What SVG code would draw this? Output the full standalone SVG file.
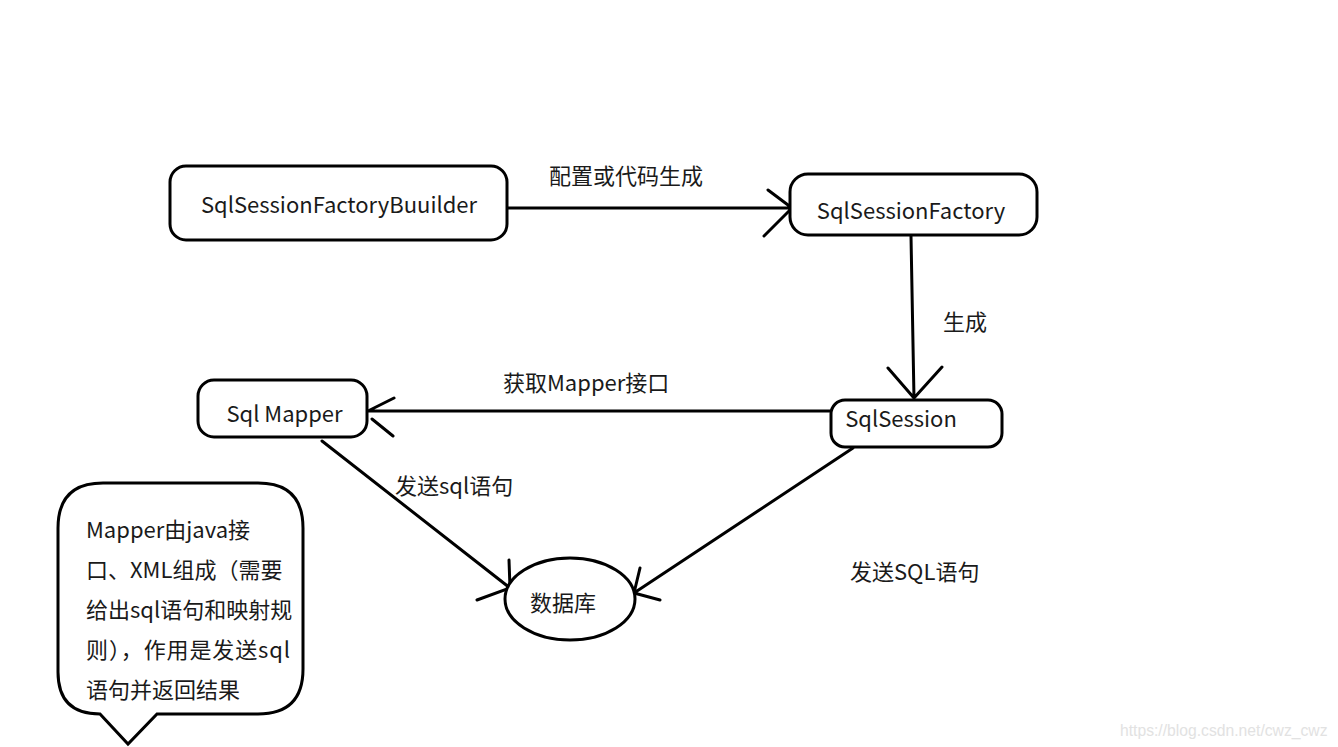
<svg xmlns="http://www.w3.org/2000/svg" width="1338" height="747" viewBox="0 0 1338 747">
<style>
.s{fill:none;stroke:#000;stroke-width:3;stroke-linecap:round;stroke-linejoin:round}
.box{fill:#fff;stroke:#000;stroke-width:3}
.t{font-family:"Microsoft YaHei","Noto Sans CJK SC","Noto Sans",sans-serif;font-size:22px;fill:#1a1a1a}
.c{font-family:"Microsoft YaHei","Noto Sans CJK SC","Noto Sans",sans-serif;font-size:22px;fill:#1a1a1a}
.w{font-family:"Liberation Sans",Arial,sans-serif;font-size:15.7px;fill:#e2e2e2}
</style>
<rect width="1338" height="747" fill="#fff"/>
<g id="connectors">
  <path class="s" d="M507 208 L792 208 M768 190 L792 208 L764 236"/>
  <path class="s" d="M911 236 L914 398 M888 368 L914 398 L942 367"/>
  <path class="s" d="M831 411 L368 411 M394 398 L368 411 M372 419 L393 436"/>
  <path class="s" d="M322 441 L510 588 M509 560 L510 588 L477 600"/>
  <path class="s" d="M853 448 L634 593 M640 568 L634 593 L660 600"/>
</g>
<g id="labels">
  <text class="t" x="549" y="184">配置或代码生成</text>
  <text class="t" x="943" y="330">生成</text>
  <text class="t" x="503" y="391">获取Mapper接口</text>
  <text class="t" x="395" y="494">发送sql语句</text>
  <text class="t" x="850" y="580">发送SQL语句</text>
</g>
<g id="builder">
  <rect class="box" x="170" y="166" width="337" height="74" rx="16"/>
  <text class="t" x="339" y="213" text-anchor="middle">SqlSessionFactoryBuuilder</text>
</g>
<g id="factory">
  <rect class="box" x="790" y="174" width="247" height="61" rx="18"/>
  <text class="t" x="911" y="219" text-anchor="middle">SqlSessionFactory</text>
</g>
<g id="session">
  <rect class="box" x="831" y="400" width="171" height="47" rx="14"/>
  <text class="t" x="901" y="427" text-anchor="middle">SqlSession</text>
</g>
<g id="mapper">
  <rect class="box" x="198" y="380" width="169" height="57" rx="16"/>
  <text class="t" x="284.5" y="422" text-anchor="middle">Sql Mapper</text>
</g>
<g id="database">
  <ellipse class="box" cx="570" cy="599" rx="65" ry="41"/>
  <text class="t" x="563" y="611" text-anchor="middle">数据库</text>
</g>
<g id="callout">
  <path class="box" d="M103 483 L258 483 Q303 483 303 528 L303 669 Q303 714 258 714 L157 714 L128 744 L100 714 Q58 714 58 672 L58 528 Q58 483 103 483 Z"/>
  <text class="c" x="86" y="538">Mapper由java接</text>
  <text class="c" x="86" y="578">口、XML组成（需要</text>
  <text class="c" x="86" y="618">给出sql语句和映射规</text>
  <text class="c" x="86" y="658" textLength="204" lengthAdjust="spacing">则），作用是发送sql</text>
  <text class="c" x="86" y="698">语句并返回结果</text>
</g>
<text class="w" x="1120" y="736">https://blog.csdn.net/cwz_cwz</text>
</svg>
